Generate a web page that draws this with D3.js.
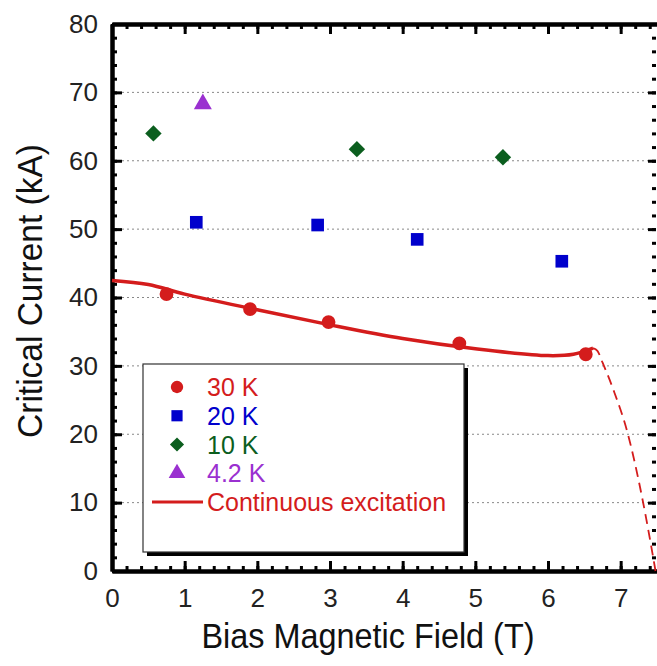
<!DOCTYPE html>
<html lang="en">
<head>
<meta charset="UTF-8">
<title>Critical Current vs Bias Field</title>
<script src="https://cdn.jsdelivr.net/npm/d3@7"></script>
<style>
  body { margin: 0; background: #fff; }
  svg { font-family: Arial, "Liberation Sans", sans-serif; }
</style>
</head>
<body>
<div id="chart"></div>
<script>
// data
var xMajor = [0, 1, 2, 3, 4, 5, 6, 7];
var yMajor = [0, 10, 20, 30, 40, 50, 60, 70, 80];
var grid = [10, 20, 30, 40, 50, 60, 70];

var k30 = [[0.75, 40.5], [1.9, 38.3], [2.98, 36.4], [4.78, 33.3], [6.52, 31.7]];
var k20 = [[1.16, 51.0], [2.83, 50.6], [4.2, 48.5], [6.19, 45.3]];
var k10 = [[0.57, 64.0], [3.37, 61.7], [5.38, 60.5]];
var k42 = [[1.25, 68.3]];

var contSolid = [[0, 42.5], [0.5, 41.9], [1, 40.5], [2, 38.2], [3, 36.0], [4, 34.0],
  [5, 32.5], [6, 31.5], [6.35, 31.7], [6.62, 32.6]];
var contDash = [[6.62, 32.6], [6.68, 32.2], [6.75, 30.5], [6.9, 26.5], [7.1, 20.0], [7.3, 10.5], [7.48, 0]];

var red = "#d41c1c", blue = "#0000cc", green = "#0b5e1e", purple = "#9a30d0";

var W = 657, H = 666;
var svg = d3.select("#chart").append("svg").attr("width", W).attr("height", H);

var x = d3.scaleLinear().domain([0, 7.5]).range([112, 657]);
var y = d3.scaleLinear().domain([0, 80]).range([571, 24]);

// gridlines
svg.selectAll("line.grid").data(grid).enter().append("line")
  .attr("class", "grid")
  .attr("x1", x(0)).attr("x2", x(7.5))
  .attr("y1", function(d){ return y(d); }).attr("y2", function(d){ return y(d); })
  .attr("stroke", "#888").attr("stroke-width", 1).attr("stroke-dasharray", "2,3");

// minor ticks
var xMinor = d3.range(0, 7.51, 0.2);
var yMinor = d3.range(0, 80.1, 2);

function styleAxis(g) {
  g.select(".domain").attr("stroke", "#000").attr("stroke-width", 4);
  g.selectAll(".tick line").attr("stroke", "#000").attr("stroke-width", 3);
  g.selectAll("text").attr("font-size", 26).attr("fill", "#222");
}

// bottom
svg.append("g").attr("transform", "translate(0," + y(0) + ")")
  .call(d3.axisBottom(x).tickValues(xMinor).tickSize(-5).tickSizeOuter(0).tickFormat(""))
  .call(styleAxis);
svg.append("g").attr("transform", "translate(0," + y(0) + ")")
  .call(d3.axisBottom(x).tickValues(xMajor).tickSize(-10).tickSizeOuter(0).tickPadding(18).tickFormat(d3.format("d")))
  .call(styleAxis);
// top
svg.append("g").attr("transform", "translate(0," + y(80) + ")")
  .call(d3.axisTop(x).tickValues(xMinor).tickSize(-5).tickSizeOuter(0).tickFormat(""))
  .call(styleAxis);
svg.append("g").attr("transform", "translate(0," + y(80) + ")")
  .call(d3.axisTop(x).tickValues(xMajor).tickSize(-10).tickSizeOuter(0).tickFormat(""))
  .call(styleAxis);
// left
svg.append("g").attr("transform", "translate(" + x(0) + ",0)")
  .call(d3.axisLeft(y).tickValues(yMinor).tickSize(-5).tickSizeOuter(0).tickFormat(""))
  .call(styleAxis);
svg.append("g").attr("transform", "translate(" + x(0) + ",0)")
  .call(d3.axisLeft(y).tickValues(yMajor).tickSize(-10).tickSizeOuter(0).tickPadding(14).tickFormat(d3.format("d")))
  .call(styleAxis);
// right (ticks only, edge is cut)
var rg = svg.append("g").attr("transform", "translate(656,0)")
  .call(d3.axisRight(y).tickValues(yMinor).tickSize(-4).tickSizeOuter(0).tickFormat(""));
rg.select(".domain").remove();
rg.selectAll(".tick line").attr("stroke", "#000").attr("stroke-width", 3);
var rg2 = svg.append("g").attr("transform", "translate(656,0)")
  .call(d3.axisRight(y).tickValues(yMajor).tickSize(-8).tickSizeOuter(0).tickFormat(""));
rg2.select(".domain").remove();
rg2.selectAll(".tick line").attr("stroke", "#000").attr("stroke-width", 3);

// legend box (under the data)
var lg = svg.append("g");
lg.append("rect").attr("x", 147).attr("y", 368).attr("width", 321).attr("height", 188).attr("fill", "#000");
lg.append("rect").attr("x", 143).attr("y", 364).attr("width", 321).attr("height", 188)
  .attr("fill", "#fff").attr("stroke", "#333").attr("stroke-width", 1.2);

// curve
var line = d3.line().x(function(d){ return x(d[0]); }).y(function(d){ return y(d[1]); }).curve(d3.curveCatmullRom);
svg.append("path").datum(contSolid).attr("d", line)
  .attr("fill", "none").attr("stroke", red).attr("stroke-width", 3.5);
svg.append("path").datum(contDash)
  .attr("d", d3.line().x(function(d){ return x(d[0]); }).y(function(d){ return y(d[1]); }).curve(d3.curveMonotoneX))
  .attr("fill", "none").attr("stroke", red).attr("stroke-width", 1.8).attr("stroke-dasharray", "10,6");

// markers
function sym(type, size) { return d3.symbol().type(type).size(size)(); }
function drawPts(data, type, size, color, rot) {
  svg.append("g").selectAll("path").data(data).enter().append("path")
    .attr("d", sym(type, size))
    .attr("transform", function(d){ return "translate(" + x(d[0]) + "," + y(d[1]) + ")" + (rot ? " rotate(" + rot + ")" : ""); })
    .attr("fill", color);
}
drawPts(k30, d3.symbolCircle, 150, red);
drawPts(k20, d3.symbolSquare, 160, blue);
drawPts(k10, d3.symbolSquare, 135, green, 45);
drawPts(k42, d3.symbolTriangle, 140, purple);

// legend entries
var items = [
  {label: "30 K", color: red, type: d3.symbolCircle, size: 120},
  {label: "20 K", color: blue, type: d3.symbolSquare, size: 125},
  {label: "10 K", color: green, type: d3.symbolSquare, size: 100, rot: 45},
  {label: "4.2 K", color: purple, type: d3.symbolTriangle, size: 120},
  {label: "Continuous excitation", color: red, line: true}
];
var ly = d3.scaleLinear().domain([0, 4]).range([387, 502]);
items.forEach(function(it, i) {
  var yy = ly(i);
  if (it.line) {
    lg.append("line").attr("x1", 152).attr("x2", 203).attr("y1", yy).attr("y2", yy)
      .attr("stroke", it.color).attr("stroke-width", 3);
  } else {
    lg.append("path").attr("d", sym(it.type, it.size))
      .attr("transform", "translate(177," + yy + ")" + (it.rot ? " rotate(" + it.rot + ")" : ""))
      .attr("fill", it.color);
  }
  lg.append("text").attr("x", 207).attr("y", yy).attr("dy", "0.36em")
    .attr("font-size", 25).attr("fill", it.color).text(it.label);
});

// axis titles
svg.append("text").attr("transform", "translate(368,648) scale(0.9,1)").attr("text-anchor", "middle")
  .attr("font-size", 36).attr("fill", "#111").text("Bias Magnetic Field (T)");
svg.append("text").attr("transform", "translate(42,291) rotate(-90) scale(0.93,1)").attr("text-anchor", "middle")
  .attr("font-size", 36).attr("fill", "#111").text("Critical Current (kA)");
</script>
</body>
</html>
